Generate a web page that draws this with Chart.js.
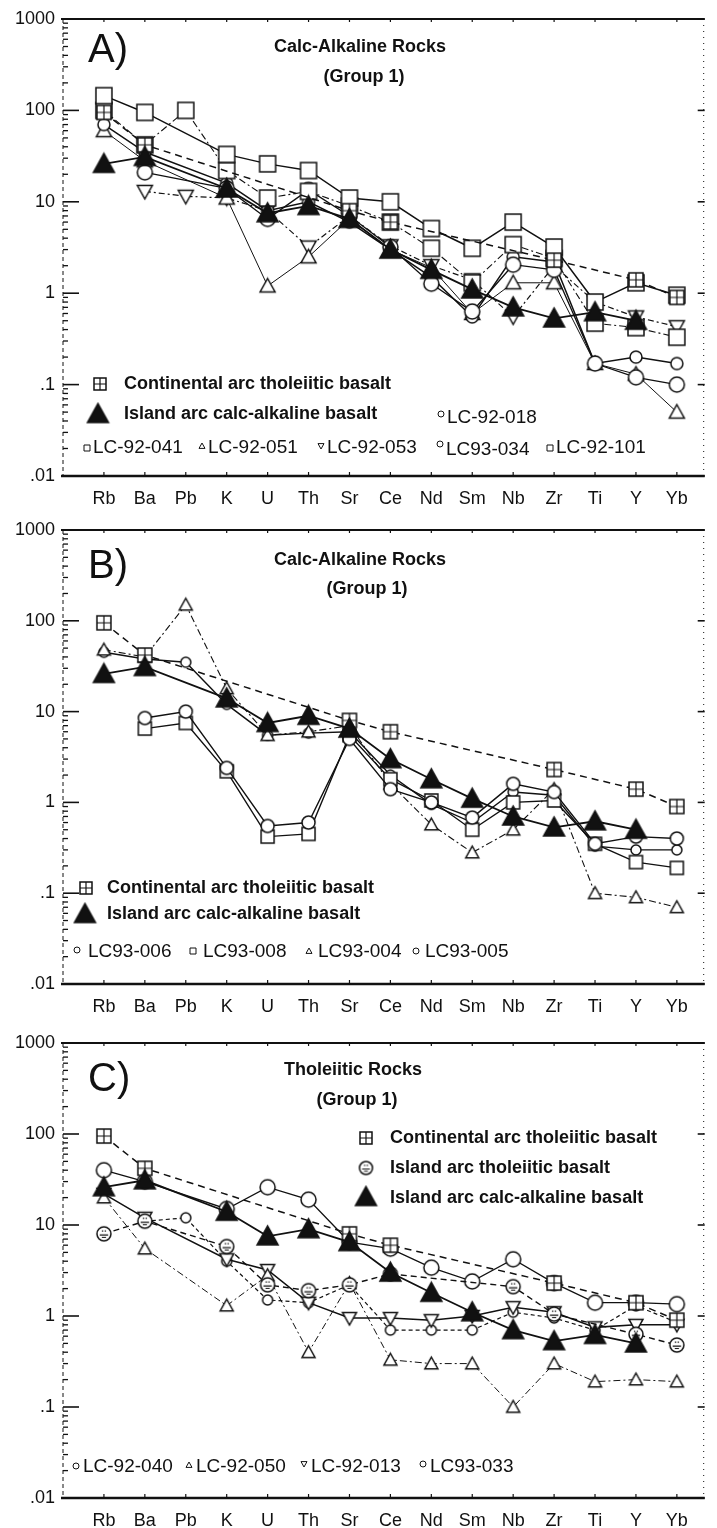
<!DOCTYPE html>
<html>
<head>
<meta charset="utf-8">
<script src="https://cdn.jsdelivr.net/npm/chart.js@4.4.1/dist/chart.umd.min.js"></script>
<style>
  html, body { margin: 0; padding: 0; background: #fff; }
  canvas { display: block; }
</style>
</head>
<body>
<canvas id="chartA" width="717" height="510"></canvas>
<canvas id="chartB" width="717" height="510"></canvas>
<canvas id="chartC" width="717" height="508"></canvas>
<script>
// spider diagram, normalised values (log scale)
const elements = ["Rb", "Ba", "Pb", "K", "U", "Th", "Sr", "Ce", "Nd", "Sm", "Nb", "Zr", "Ti", "Y", "Yb"];
const yTicks = [0.01, 0.1, 1, 10, 100, 1000];
const yTickLabels = [".01", ".1", "1", "10", "100", "1000"];

// reference basalts (same in every panel)
const contArcTholeiite = [95, 42, null, null, null, null, 8, 6, null, null, null, 2.3, null, 1.4, 0.9];
const islandArcCalcAlk = [26, 31, null, 14, 7.5, 9, 6.5, 3.0, 1.8, 1.1, 0.7, 0.53, 0.62, 0.5, null];
const islandArcTholeiite = [8, 11, null, 5.8, 2.2, 1.9, 2.2, 2.9, null, null, 2.1, 1.05, null, 0.63, 0.48];

// A) calc-alkaline rocks
const lc92_018 = [null, 21, null, 14, 6.5, 13.5, 7, 3.2, 1.27, 0.63, 2.05, 1.8, 0.17, 0.12, 0.1];
const lc92_041 = [145, 95, null, 33, 26, 22, 11, 10, 5.1, 3.1, 6.0, 3.2, 0.8, 1.3, 0.95];
const lc92_051 = [60, 28, null, 11, 1.2, 2.5, 6.5, 3, 1.9, 0.6, 1.3, 1.3, 0.17, 0.13, 0.05];
const lc92_053 = [null, 13, 11.5, 11, 8, 3.2, 7, 3.3, 2.0, 1.4, 0.55, 2.0, 0.8, 0.55, 0.43];
const lc93_034 = [70, 35, null, 16, 8, 10, 6, 3, 1.5, 0.55, 2.5, 2.2, 0.17, 0.2, 0.17];
const lc92_101 = [100, 42, 100, 22, 11, 13, 9, 6, 3.1, 1.3, 3.4, 2.4, 0.47, 0.42, 0.33];

// B) calc-alkaline rocks
const lc93_006 = [null, 8.5, 10, 2.4, 0.55, 0.6, 5, 1.4, 1.0, 0.68, 1.6, 1.3, 0.35, 0.42, 0.4];
const lc93_008 = [null, 6.5, 7.5, 2.2, 0.42, 0.45, 5.5, 1.8, 1.05, 0.5, 1.0, 1.05, 0.35, 0.22, 0.19];
const lc93_004 = [48, 40, 150, 18, 5.5, 6, 7, 1.6, 0.57, 0.28, 0.5, 1.4, 0.1, 0.09, 0.07];
const lc93_005 = [45, 38, 35, 12, 5.5, 5.8, 6, 2.0, 0.95, 0.6, 1.3, 1.2, 0.33, 0.3, 0.3];

// C) tholeiitic rocks
const lc92_040 = [40, 30, null, 15, 26, 19, 6.5, 5.5, 3.4, 2.4, 4.2, 2.3, 1.4, 1.4, 1.35];
const lc92_050 = [20, 5.5, null, 1.3, 2.8, 0.4, 2.3, 0.33, 0.3, 0.3, 0.1, 0.3, 0.19, 0.2, 0.19];
const lc92_013 = [22, 12, null, 4.2, 3.2, 1.4, 0.95, 0.95, 0.9, 1.0, 1.25, 1.1, 0.75, 0.8, 0.8];
const lc93_033 = [null, 11, 12, 4, 1.5, 1.4, 2.2, 0.7, 0.7, 0.7, 1.1, 0.95, 0.7, 1.3, 0.85];

const FONT = "'Liberation Sans', Arial, Helvetica, sans-serif";
const INK = "#111";

// small canvases used as point styles
function marker(kind, size, lw) {
  const c = document.createElement("canvas");
  c.width = c.height = Math.ceil(size + 4);
  const g = c.getContext("2d");
  const m = c.width / 2, h = size / 2;
  g.lineWidth = lw || 1.5;
  g.strokeStyle = INK;
  g.fillStyle = kind === "ftri" ? INK : "#fff";
  g.beginPath();
  if (kind === "square" || kind === "sqcross") {
    g.rect(m - h, m - h, size, size);
  } else if (kind === "circle" || kind === "circx" || kind === "dot") {
    g.arc(m, m, h, 0, Math.PI * 2);
  } else if (kind === "tri" || kind === "ftri") {
    g.moveTo(m, m - h);
    g.lineTo(m + h, m + h * 0.8);
    g.lineTo(m - h, m + h * 0.8);
    g.closePath();
  } else if (kind === "itri") {
    g.moveTo(m, m + h);
    g.lineTo(m + h, m - h * 0.8);
    g.lineTo(m - h, m - h * 0.8);
    g.closePath();
  }
  g.fill();
  g.stroke();
  if (kind === "sqcross") {
    g.lineWidth = 1.2;
    g.beginPath();
    g.moveTo(m - h, m); g.lineTo(m + h, m);
    g.moveTo(m, m - h); g.lineTo(m, m + h);
    g.stroke();
  }
  if (kind === "circx") {
    g.lineWidth = 1.2;
    g.beginPath();
    g.moveTo(m - h * 0.6, m + h * 0.15); g.lineTo(m + h * 0.6, m + h * 0.15);
    g.moveTo(m - h * 0.3, m - h * 0.4); g.lineTo(m - h * 0.1, m - h * 0.4);
    g.moveTo(m + h * 0.1, m - h * 0.4); g.lineTo(m + h * 0.3, m - h * 0.4);
    g.moveTo(m - h * 0.3, m + h * 0.5); g.lineTo(m + h * 0.3, m + h * 0.5);
    g.stroke();
  }
  return c;
}

function series(values, kind, size, dash, width) {
  return {
    data: values.map((v, i) => ({ x: i, y: v })),
    borderColor: INK,
    borderWidth: width || 1.5,
    borderDash: dash || [],
    pointStyle: marker(kind, size),
    pointRadius: size / 2,
    spanGaps: true,
    tension: 0,
    fill: false
  };
}

function line(ctx, x1, y1, x2, y2) {
  ctx.beginPath();
  ctx.moveTo(x1, y1);
  ctx.lineTo(x2, y2);
  ctx.stroke();
}

// axis frame with inward ticks, like the scanned figure
const frame = {
  id: "frame",
  beforeDatasetsDraw(chart) {
    const { ctx, chartArea: a, scales: { x, y } } = chart;
    ctx.save();
    ctx.strokeStyle = INK;
    ctx.lineWidth = 2;
    line(ctx, a.left - 2, a.top, a.right, a.top);
    ctx.lineWidth = 2.6;
    line(ctx, a.left - 2, a.bottom, a.right, a.bottom);
    ctx.lineWidth = 1;
    ctx.setLineDash([4, 3]);
    line(ctx, a.left, a.top, a.left, a.bottom);
    ctx.setLineDash([1, 5]);
    line(ctx, a.right - 1, a.top, a.right - 1, a.bottom);
    ctx.setLineDash([]);
    for (let e = -2; e <= 3; e++) {
      const p = y.getPixelForValue(Math.pow(10, e));
      ctx.lineWidth = 1.6;
      line(ctx, a.left, p, a.left + 16, p);
      line(ctx, a.right - 7, p, a.right, p);
      if (e < 3) {
        ctx.lineWidth = 1.3;
        for (let k = 2; k <= 9; k++) {
          const q = y.getPixelForValue(k * Math.pow(10, e));
          line(ctx, a.left, q, a.left + 5, q);
        }
      }
    }
    ctx.lineWidth = 1.2;
    elements.forEach((_, i) => {
      const px = x.getPixelForValue(i);
      line(ctx, px, a.top, px, a.top + 3);
      line(ctx, px, a.bottom, px, a.bottom - 4);
    });
    ctx.restore();
  }
};

// titles and in-plot legends
const notes = {
  id: "notes",
  afterDraw(chart, args, opts) {
    const ctx = chart.ctx;
    ctx.save();
    ctx.fillStyle = INK;
    ctx.textBaseline = "middle";
    (opts.texts || []).forEach(t => {
      ctx.font = t.font;
      ctx.textAlign = t.align || "left";
      ctx.fillText(t.text, t.x, t.y);
    });
    (opts.marks || []).forEach(m => {
      const c = marker(m.kind, m.size, m.lw);
      ctx.drawImage(c, m.x - c.width / 2, m.y - c.height / 2);
    });
    ctx.restore();
  }
};

const BOLD = "bold 18px " + FONT;
const NAME = "19px " + FONT;

function buildChart(id, datasets, top, bottomPad, xHeight, notesCfg) {
  new Chart(document.getElementById(id), {
    type: "line",
    data: { datasets: datasets },
    plugins: [frame, notes],
    options: {
      responsive: false,
      animation: false,
      events: [],
      layout: { padding: { top: top, right: 1, bottom: bottomPad, left: 0 } },
      plugins: { legend: { display: false }, tooltip: { enabled: false }, notes: notesCfg },
      scales: {
        x: {
          type: "linear",
          min: -1,
          max: 14.68,
          grid: { display: false, drawTicks: false },
          border: { display: false },
          afterBuildTicks: s => { s.ticks = elements.map((e, i) => ({ value: i })); },
          afterFit: s => { s.height = xHeight; },
          ticks: {
            autoSkip: false,
            maxRotation: 0,
            padding: 12,
            color: INK,
            font: { family: FONT, size: 18 },
            callback: v => elements[v]
          }
        },
        y: {
          type: "logarithmic",
          min: 0.01,
          max: 1000,
          grid: { display: false, drawTicks: false },
          border: { display: false },
          afterBuildTicks: s => { s.ticks = yTicks.map(v => ({ value: v })); },
          afterFit: s => { s.width = 63; },
          ticks: {
            padding: 8,
            color: INK,
            font: { family: FONT, size: 18 },
            callback: v => yTickLabels[yTicks.indexOf(v)]
          }
        }
      }
    }
  });
}

const refsAB = [
  series(islandArcCalcAlk, "ftri", 21, [], 1.8),
  series(contArcTholeiite, "sqcross", 14, [7, 5], 1.5)
];

buildChart("chartA", [
  ...refsAB,
  series(lc92_041, "square", 16, [], 1.5),
  series(lc92_101, "square", 16, [7, 3, 2, 3], 1.1),
  series(lc92_018, "circle", 15, [], 1.3),
  series(lc93_034, "dot", 12, [], 1.5),
  series(lc92_051, "tri", 15, [], 1.0),
  series(lc92_053, "itri", 15, [6, 3, 2, 3], 1.2)
], 19, 0, 34, {
  texts: [
    { text: "A)", x: 88, y: 51, font: "40px " + FONT },
    { text: "Calc-Alkaline Rocks", x: 360, y: 47, align: "center", font: BOLD },
    { text: "(Group 1)", x: 364, y: 77, align: "center", font: BOLD },
    { text: "Continental arc tholeiitic basalt", x: 124, y: 384, font: BOLD },
    { text: "Island arc calc-alkaline basalt", x: 124, y: 414, font: BOLD },
    { text: "LC-92-018", x: 447, y: 418, font: NAME },
    { text: "LC-92-041", x: 93, y: 448, font: NAME },
    { text: "LC-92-051", x: 208, y: 448, font: NAME },
    { text: "LC-92-053", x: 327, y: 448, font: NAME },
    { text: "LC93-034", x: 446, y: 450, font: NAME },
    { text: "LC-92-101", x: 556, y: 448, font: NAME }
  ],
  marks: [
    { kind: "sqcross", size: 12, x: 100, y: 384 },
    { kind: "ftri", size: 21, x: 98, y: 414 },
    { kind: "circle", size: 6, lw: 1, x: 441, y: 414 },
    { kind: "square", size: 6, lw: 1, x: 87, y: 448 },
    { kind: "tri", size: 6, lw: 1, x: 202, y: 446 },
    { kind: "itri", size: 6, lw: 1, x: 321, y: 446 },
    { kind: "circle", size: 6, lw: 1, x: 440, y: 444 },
    { kind: "square", size: 6, lw: 1, x: 550, y: 448 }
  ]
});

buildChart("chartB", [
  ...refsAB,
  series(lc93_006, "circle", 13, [], 1.4),
  series(lc93_008, "square", 13, [], 1.4),
  series(lc93_004, "tri", 13, [7, 3, 2, 3], 1.1),
  series(lc93_005, "dot", 10, [], 1.4)
], 20, 2, 34, {
  texts: [
    { text: "B)", x: 88, y: 57, font: "40px " + FONT },
    { text: "Calc-Alkaline Rocks", x: 360, y: 50, align: "center", font: BOLD },
    { text: "(Group 1)", x: 367, y: 79, align: "center", font: BOLD },
    { text: "Continental arc tholeiitic basalt", x: 107, y: 378, font: BOLD },
    { text: "Island arc calc-alkaline basalt", x: 107, y: 404, font: BOLD },
    { text: "LC93-006", x: 88, y: 442, font: NAME },
    { text: "LC93-008", x: 203, y: 442, font: NAME },
    { text: "LC93-004", x: 318, y: 442, font: NAME },
    { text: "LC93-005", x: 425, y: 442, font: NAME }
  ],
  marks: [
    { kind: "sqcross", size: 12, x: 86, y: 378 },
    { kind: "ftri", size: 21, x: 85, y: 404 },
    { kind: "circle", size: 6, lw: 1, x: 77, y: 440 },
    { kind: "square", size: 6, lw: 1, x: 193, y: 441 },
    { kind: "tri", size: 6, lw: 1, x: 309, y: 441 },
    { kind: "circle", size: 6, lw: 1, x: 416, y: 441 }
  ]
});

buildChart("chartC", [
  series(islandArcCalcAlk, "ftri", 21, [], 1.8),
  series(contArcTholeiite, "sqcross", 14, [7, 5], 1.5),
  series(islandArcTholeiite, "circx", 14, [6, 4], 1.4),
  series(lc92_040, "circle", 15, [], 1.3),
  series(lc92_050, "tri", 13, [7, 3, 2, 3], 1.0),
  series(lc92_013, "itri", 14, [], 1.5),
  series(lc93_033, "dot", 10, [4, 3], 1.2)
], 23, 0, 30, {
  texts: [
    { text: "C)", x: 88, y: 60, font: "40px " + FONT },
    { text: "Tholeiitic Rocks", x: 353, y: 50, align: "center", font: BOLD },
    { text: "(Group 1)", x: 357, y: 80, align: "center", font: BOLD },
    { text: "Continental arc tholeiitic basalt", x: 390, y: 118, font: BOLD },
    { text: "Island arc tholeiitic basalt", x: 390, y: 148, font: BOLD },
    { text: "Island arc calc-alkaline basalt", x: 390, y: 178, font: BOLD },
    { text: "LC-92-040", x: 83, y: 447, font: NAME },
    { text: "LC-92-050", x: 196, y: 447, font: NAME },
    { text: "LC-92-013", x: 311, y: 447, font: NAME },
    { text: "LC93-033", x: 430, y: 447, font: NAME }
  ],
  marks: [
    { kind: "sqcross", size: 12, x: 366, y: 118 },
    { kind: "circx", size: 13, x: 366, y: 148 },
    { kind: "ftri", size: 21, x: 366, y: 177 },
    { kind: "circle", size: 6, lw: 1, x: 76, y: 446 },
    { kind: "tri", size: 6, lw: 1, x: 189, y: 445 },
    { kind: "itri", size: 6, lw: 1, x: 304, y: 444 },
    { kind: "circle", size: 6, lw: 1, x: 423, y: 444 }
  ]
});
</script>
</body>
</html>
